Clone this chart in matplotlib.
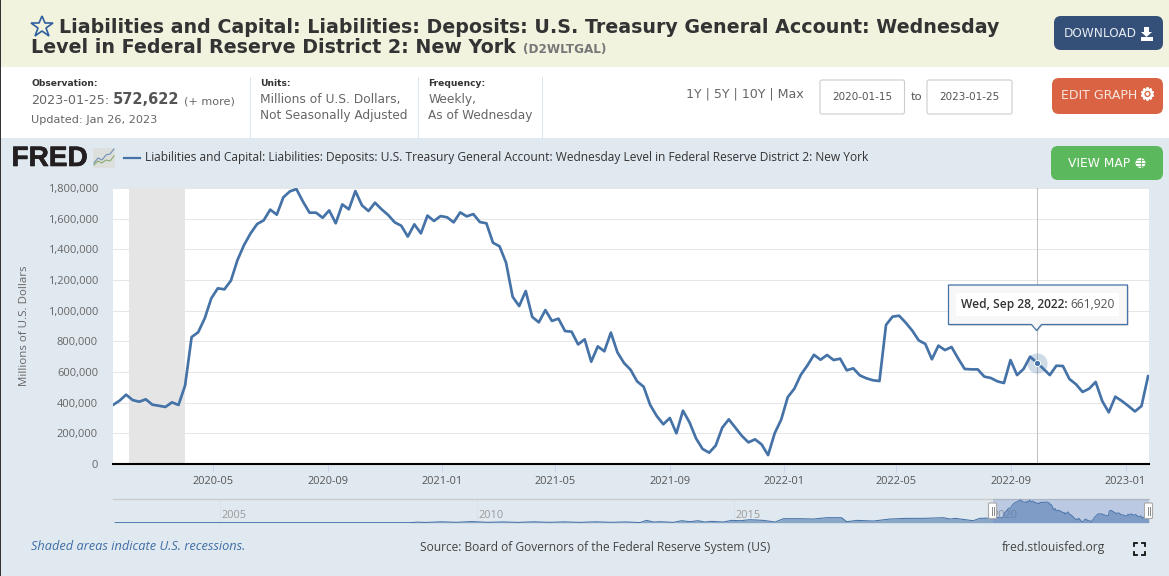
import matplotlib
matplotlib.use("Agg")
import matplotlib.pyplot as plt
import matplotlib.patheffects as pe
import pandas as pd
from matplotlib.patches import Rectangle, FancyBboxPatch, Polygon, Circle

W, H = 1169, 576
BLUE = "#4572a7"
PANEL = "#e1e9f0"

# ---- data ----
start_date = "2020-01-15"
values_k = [
    385, 413, 452, 417, 406, 422, 387, 380, 372, 402, 385, 511, 828, 859, 950, 1080,
    1146, 1139, 1196, 1330, 1428, 1504, 1565, 1589, 1659, 1626, 1739, 1778, 1793, 1711,
    1639, 1639, 1606, 1654, 1570, 1693, 1661, 1780, 1687, 1650, 1704, 1661, 1624, 1576,
    1554, 1483, 1563, 1504, 1620, 1585, 1617, 1609, 1576, 1641, 1615, 1630, 1578, 1570,
    1443, 1420, 1313, 1091, 1030, 1128, 959, 924, 1004, 933, 948, 867, 863, 780, 813,
    667, 767, 735, 857, 728, 659, 615, 539, 504, 385, 313, 259, 300, 200, 348, 272, 167,
    98, 74, 120, 237, 291, 237, 183, 141, 161, 128, 58, 200, 290, 436, 491, 582, 643,
    712, 680, 711, 678, 687, 611, 624, 578, 559, 546, 541, 907, 961, 967, 922, 870, 806,
    783, 683, 772, 743, 763, 689, 620, 617, 617, 570, 561, 539, 528, 678, 580, 620, 700,
    661.92, 622, 580, 641, 639, 554, 520, 470, 491, 535, 411, 337, 439, 411, 378, 343,
    378, 572.622,
]
dates = pd.date_range(start_date, periods=len(values_k), freq="7D")
values = [v * 1000 for v in values_k]

y_ticks = [0, 200000, 400000, 600000, 800000, 1000000, 1200000, 1400000, 1600000, 1800000]
x_tick_dates = ["2020-05-01", "2020-09-01", "2021-01-01", "2021-05-01", "2021-09-01",
                "2022-01-01", "2022-05-01", "2022-09-01", "2023-01-01"]
x_tick_labels = [d[:7] for d in x_tick_dates]
recession = ("2020-02-01", "2020-04-01")
hover_date = "2022-09-28"
hover_value = 661920

hist_years = [2002.96, 2005, 2007, 2008.7, 2008.85, 2009.0, 2009.3, 2009.6, 2009.9, 2010.2, 2010.5,
              2010.8, 2011.1, 2011.4, 2011.7, 2012.0, 2012.3, 2012.6, 2012.9,
              2013.17, 2013.30, 2013.43, 2013.56, 2013.82, 2013.98, 2014.14, 2014.30, 2014.43,
              2014.56, 2014.79, 2014.95, 2015.12, 2015.31, 2015.57, 2015.80, 2015.96, 2016.28,
              2016.54, 2016.80, 2017.09, 2017.19, 2017.39, 2017.71, 2018.03, 2018.36, 2018.68,
              2019.07, 2019.20, 2019.30, 2019.65, 2019.78, 2019.98]
hist_k = [5, 5, 5, 5, 45, 20, 70, 30, 90, 30, 60, 25, 70, 30, 65, 25, 70, 30, 60,
          10, 184, 53, 79, 26, 158, 79, 158, 53, 105, 53, 184, 158, 237, 184, 53, 316, 316,
          289, 395, 395, 79, 184, 131, 289, 342, 342, 395, 289, 342, 158, 342, 368]
nav_ticks = [2005, 2010, 2015, 2020]


def frac_year(ts):
    return ts.year + (ts.dayofyear - 1) / 365.25


nav_x = hist_years + [frac_year(d) for d in dates]
nav_y = hist_k + values_k

fig = plt.figure(figsize=(W / 100, H / 100), dpi=100, facecolor=PANEL)


def px_axes(z):
    a = fig.add_axes([0, 0, 1, 1], zorder=z)
    a.set_xlim(0, W)
    a.set_ylim(H, 0)
    a.axis("off")
    a.patch.set_alpha(0)
    return a


bg = px_axes(0)
OS = "Open Sans"
DV = "DejaVu Sans"


def px(s):
    return s * 0.72


def T(a, x, y, s, size, color="#333333", family=DV, weight="normal", ha="left", va="center", **kw):
    return a.text(x, y, s, fontsize=px(size), color=color, family=family, weight=weight, ha=ha, va=va, **kw)


# page bands
bg.add_patch(Rectangle((0, 0), W, 67, fc="#f1f3de", ec="none"))
bg.add_patch(Rectangle((0, 67), W, 71, fc="white", ec="none"))
bg.add_patch(Rectangle((0, 138), W, H - 138, fc=PANEL, ec="none"))
bg.add_patch(Rectangle((0, 0), 1, H, fc="#333333", ec="none"))

# title
bg.plot([41.5], [27], marker="*", ms=16.5, mfc="none", mec="#2f5f9e", mew=1.2)
T(bg, 59, 27.5, "Liabilities and Capital: Liabilities: Deposits: U.S. Treasury General Account: Wednesday",
  18.98, "#333333", weight="bold")
T(bg, 31, 47.5, "Level in Federal Reserve District 2: New York", 18.98, "#333333", weight="bold")
T(bg, 523, 50, "(D2WLTGAL)", 12, "#777777", weight="bold")


def button(x0, x1, y0, y1, color):
    bg.add_patch(FancyBboxPatch((x0 + 6, y0 + 6), x1 - x0 - 12, y1 - y0 - 12,
                                boxstyle="round,pad=6,rounding_size=7", fc=color, ec="none"))


button(1054, 1163, 16, 50, "#344f78")
T(bg, 1064, 33.5, "DOWNLOAD", 12.1, "#e6ebf2")
bg.add_patch(Polygon([[1144, 27], [1149, 27], [1149, 32], [1152, 32], [1146.5, 37], [1141, 32], [1144, 32]],
                     fc="white", ec="none"))
bg.add_patch(Rectangle((1141, 36.5), 12, 4, fc="white", ec="none"))
button(1052, 1163, 78, 114, "#d96342")
T(bg, 1061, 95.5, "EDIT GRAPH", 12.5, "#f7e6e0")
T(bg, 1147.5, 95, "\u2699", 17, "white", ha="center", path_effects=[pe.withStroke(linewidth=0.7, foreground="white")])
button(1051, 1163, 146, 180, "#5cb85c")
T(bg, 1068, 163.5, "VIEW MAP", 12.3, "white")
bg.add_patch(Circle((1140.5, 163), 5, fc="white", ec="none"))
bg.plot([1135.5, 1145.5], [163, 163], color="#5cb85c", lw=0.6)
bg.plot([1140.5, 1140.5], [158, 168], color="#5cb85c", lw=0.6)
bg.plot([1136, 1145], [160, 160], color="#5cb85c", lw=0.5)
bg.plot([1136, 1145], [166, 166], color="#5cb85c", lw=0.5)

# info strip
for xd in (249.5, 417.5, 541.5):
    bg.plot([xd, xd], [77, 138], color="#dbe5ee", lw=0.72)
T(bg, 31, 83, "Observation:", 9.1, "#333333", weight="bold")
T(bg, 31, 100.5, "2023-01-25:", 12.8, "#666666")
T(bg, 113, 100, "572,622", 14.6, "#555555", weight="bold")
T(bg, 184, 101, "(+ more)", 11.2, "#666666")
T(bg, 31, 120, "Updated: Jan 26, 2023", 11.2, "#666666")
T(bg, 260, 83, "Units:", 9.1, "#333333", weight="bold")
T(bg, 260, 99, "Millions of U.S. Dollars,", 12.2, "#666666")
T(bg, 260, 116, "Not Seasonally Adjusted", 12.1, "#666666")
T(bg, 428.5, 83, "Frequency:", 9.1, "#333333", weight="bold")
T(bg, 428.5, 99, "Weekly,", 12.2, "#666666")
T(bg, 428.5, 116, "As of Wednesday", 12.1, "#666666")
T(bg, 686, 94, "1Y | 5Y | 10Y | Max", 12.6, "#666666")
for x0, x1, s in ((820, 904.5, "2020-01-15"), (927, 1012, "2023-01-25")):
    bg.add_patch(FancyBboxPatch((x0 + 2, 82), x1 - x0 - 4, 30, boxstyle="round,pad=2,rounding_size=2",
                                fc="white", ec="#cccccc", lw=0.8))
    T(bg, (x0 + x1) / 2, 97, s, 10.4, "#555555", ha="center")
T(bg, 916, 96.5, "to", 11.5, "#555555", ha="center")

# FRED logo and legend
T(bg, 11.5, 159, "FRED", 28, "#231f20", family="Liberation Sans", weight="bold",
  path_effects=[pe.withStroke(linewidth=0.45, foreground="#231f20")])
bg.add_patch(FancyBboxPatch((94, 149), 20, 18, boxstyle="round,pad=1,rounding_size=2", fc="#dcdfdc", ec="none"))
bg.plot([94, 98, 102, 106, 110, 114], [163, 158, 160, 155, 154, 149], color="#6f8fb5", lw=0.8)
bg.plot([94, 98, 102, 106, 110, 114], [165, 161, 163, 160, 161, 156], color="#86ad70", lw=0.8)
bg.plot([124, 140], [158, 158], color=BLUE, lw=1.6)
T(bg, 145, 158, "Liabilities and Capital: Liabilities: Deposits: U.S. Treasury General Account: Wednesday Level in Federal Reserve District 2: New York",
  12.03, "#333333", family=OS)

# main chart
ax = fig.add_axes([113 / W, (H - 464) / H, 1036 / W, 276 / H], zorder=2, facecolor="white")
ax.set_xlim(dates[0], dates[-1] + pd.Timedelta(days=1))
ax.set_ylim(0, 1800000)
ax.grid(axis="y", color="#e6e6e6", lw=0.72)
ax.set_axisbelow(True)
ax.axvspan(pd.Timestamp(recession[0]), pd.Timestamp(recession[1]), color="#e5e5e5", lw=0, zorder=1)
ax.axvline(pd.Timestamp(hover_date), color="#c0c0c0", lw=0.72, zorder=2)
ax.plot([pd.Timestamp(hover_date)], [hover_value], "o", ms=14.5, mfc="#4572a7", alpha=0.25, mec="none", zorder=3)
ax.plot(dates, values, color=BLUE, lw=1.95, zorder=4, solid_joinstyle="round")
ax.plot([pd.Timestamp(hover_date)], [hover_value], "o", ms=4.5, mfc=BLUE, mec="white", mew=0.7, zorder=5)
for sp in ("top", "left", "right"):
    ax.spines[sp].set_visible(False)
ax.spines["bottom"].set_color("black")
ax.spines["bottom"].set_linewidth(1.5)
ax.set_yticks(y_ticks)
ax.set_yticklabels([f"{v:,}" for v in y_ticks], fontsize=px(11.1), family=OS, color="#666666")
ax.tick_params(axis="y", length=0, pad=10.8)
ax.set_xticks([pd.Timestamp(d) for d in x_tick_dates])
ax.set_xticklabels(x_tick_labels, fontsize=px(11), family=OS, color="#555555")
ax.tick_params(axis="x", length=6, width=0.72, color="#ccd6eb", pad=2.5)
T(bg, 25, 326, "Millions of U.S. Dollars", 11.5, "#666666", family=OS, ha="center", rotation=90)

# navigator
nav = fig.add_axes([113 / W, (H - 522.7) / H, 1036 / W, 24.2 / H], zorder=2)
nav.patch.set_alpha(0)
nav.set_xlim(2002.92, 2023.07)
nav.set_ylim(0, 1910)
for sp in ("left", "right", "bottom"):
    nav.spines[sp].set_visible(False)
nav.spines["top"].set_color("#cccccc")
nav.spines["top"].set_linewidth(1.0)
nav.set_yticks([])
nav.set_xticks(nav_ticks)
nav.set_xticklabels([])
nav.tick_params(axis="x", length=0)
for yr in nav_ticks:
    nav.axvline(yr, color="#d8e0e8", lw=0.6, zorder=0)
    nav.annotate(str(yr), (yr, 0), xytext=(1.0, 5.5), textcoords="offset points", ha="left", va="center",
                 fontsize=px(11), family=OS, color="#999999", zorder=1)
nav.fill_between(nav_x, nav_y, 0, color="#4572a7", alpha=0.55, lw=0, zorder=2)
nav.plot(nav_x, nav_y, color=BLUE, lw=0.75, zorder=3)
sel0 = frac_year(dates[0])
nav.axvspan(sel0, 2023.07, color="#6685c2", alpha=0.3, lw=0, zorder=4)

# footer
T(bg, 31, 547, "Shaded areas indicate U.S. recessions.", 12.7, "#3f6ea6", family=OS, style="italic")
T(bg, 420, 547, "Source: Board of Governors of the Federal Reserve System (US)", 12.0, "#444444", family=OS)
T(bg, 1002, 547, "fred.stlouisfed.org", 12.1, "#444444", family=OS)

# overlay
ov = px_axes(6)
for xh in (988.5, 1144.5):
    ov.add_patch(FancyBboxPatch((xh + 1, 504), 6, 13.5, boxstyle="round,pad=1,rounding_size=1",
                                fc="white", ec="#a8a8a8", lw=0.8))
    ov.plot([xh + 3, xh + 3], [507, 515], color="#888888", lw=0.7)
    ov.plot([xh + 5, xh + 5], [507, 515], color="#888888", lw=0.7)
for (x, y, dx, dy) in ((1134, 543, 1, 1), (1145, 543, -1, 1), (1134, 555, 1, -1), (1145, 555, -1, -1)):
    ov.plot([x + 3 * dx, x, x], [y, y, y + 3 * dy], color="#111111", lw=1.3, solid_joinstyle="miter")

tip = [[948.5, 285], [1127.5, 285], [1127.5, 324.5], [1041.5, 324.5], [1036.5, 330.5], [1031.5, 324.5], [948.5, 324.5]]
ov.add_patch(Polygon([[x + 1, y + 1.2] for x, y in tip], fc="#999999", ec="none", alpha=0.45))
ov.add_patch(Polygon(tip, fc="#f7f7f7", ec=BLUE, lw=0.9, joinstyle="round"))
ov.add_patch(Rectangle((956, 293), 163, 23, fc="white", ec="none"))
T(ov, 961, 304.5, "Wed, Sep 28, 2022:", 12, "#333333", family=OS, weight="semibold")
T(ov, 1070, 304.5, f"{hover_value:,}", 12, "#555555", family=OS)

fig.savefig("out.png", dpi=100, facecolor=PANEL)
